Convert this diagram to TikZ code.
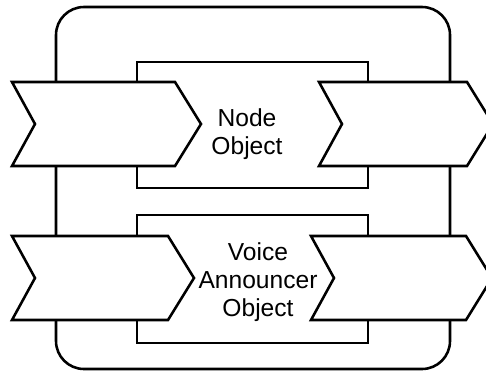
\documentclass[tikz,border=0pt]{standalone}
\usepackage{fontspec}
\setmainfont{Liberation Sans}
\usetikzlibrary{calc}
\tikzset{
	frame/.style={line width=0.9mm, draw=black, rounded corners=28pt},
	objbox/.style={line width=0.9mm, draw=black, fill=white},
	chev/.style={line width=0.9mm, draw=black, fill=white, line join=miter},
	objtext/.style={align=center, font=\fontsize{24.6}{28}\selectfont, inner sep=0pt}
}
\def\chevron(#1,#2)(#3){\draw[chev] (#1,#2) -- ++(#3,0) -- ++(26,42) -- ++(-26,42) -- ++(-#3,0) -- ++(23,-42) -- cycle;}

\begin{document}
\begin{tikzpicture}[x=1pt, y=-1pt]
		%%%%% START %%%%%
		\useasboundingbox (0,0) rectangle (486,372);
		
		\draw[frame] (56,7) rectangle (450,369);
		
		\draw[objbox] (137,62) rectangle (368,188);
		\draw[objbox] (137,215) rectangle (368,343);
		
		\chevron(12,82)(163)
		\chevron(319,82)(148)
		\chevron(12,236)(156)
		\chevron(311,236)(155)
		
		\node[objtext] (nodeobj) at (247,134.5) {Node\\Object};
		\node[objtext] (voiceobj) at (258,282) {Voice\\Announcer\\Object};
		%%%%% END %%%%%
\end{tikzpicture}
\end{document}
